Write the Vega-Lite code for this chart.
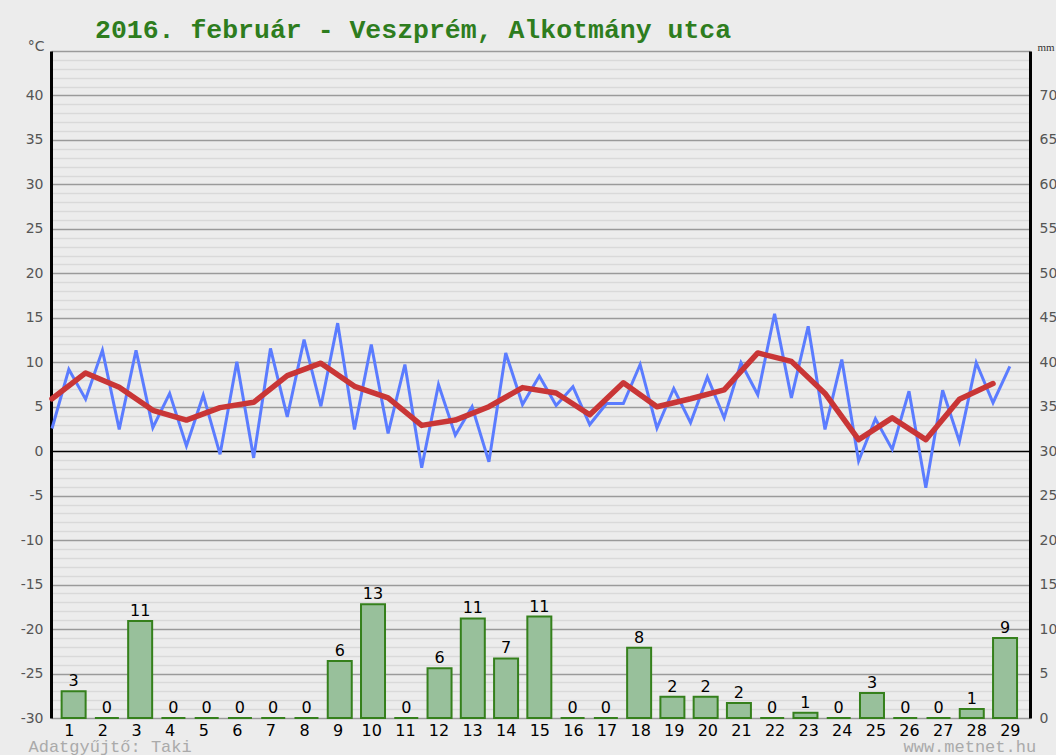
{
  "$schema": "https://vega.github.io/schema/vega-lite/v6.json",
  "width": 979,
  "height": 667,
  "autosize": {"type": "none"},
  "padding": {"left": 51, "top": 51, "right": 26, "bottom": 37},
  "background": "#ececec",
  "config": {"view": {"stroke": null}},
  "title": {
    "text": "2016. február - Veszprém, Alkotmány utca",
    "anchor": "start",
    "frame": "group",
    "dx": 44,
    "dy": 36,
    "offset": 11,
    "baseline": "alphabetic",
    "font": "Liberation Mono",
    "fontSize": 26.5,
    "fontWeight": "bold",
    "color": "#2e7d1e"
  },
  "datasets": {
    "hilo": [
      {"x": 0.5, "t": 2.55}, {"x": 1, "t": 9.2}, {"x": 1.5, "t": 5.85}, {"x": 2, "t": 11.35},
      {"x": 2.5, "t": 2.45}, {"x": 3, "t": 11.35}, {"x": 3.5, "t": 2.65}, {"x": 4, "t": 6.5},
      {"x": 4.5, "t": 0.6}, {"x": 5, "t": 6.3}, {"x": 5.5, "t": -0.35}, {"x": 6, "t": 10.05},
      {"x": 6.5, "t": -0.75}, {"x": 7, "t": 11.55}, {"x": 7.5, "t": 3.85}, {"x": 8, "t": 12.55},
      {"x": 8.5, "t": 5.05}, {"x": 9, "t": 14.4}, {"x": 9.5, "t": 2.45}, {"x": 10, "t": 12.0},
      {"x": 10.5, "t": 2.0}, {"x": 11, "t": 9.75}, {"x": 11.5, "t": -1.85}, {"x": 12, "t": 7.5},
      {"x": 12.5, "t": 1.8}, {"x": 13, "t": 5.0}, {"x": 13.5, "t": -1.2}, {"x": 14, "t": 11.05},
      {"x": 14.5, "t": 5.25}, {"x": 15, "t": 8.45}, {"x": 15.5, "t": 5.15}, {"x": 16, "t": 7.25},
      {"x": 16.5, "t": 3.0}, {"x": 17, "t": 5.35}, {"x": 17.5, "t": 5.35}, {"x": 18, "t": 9.75},
      {"x": 18.5, "t": 2.6}, {"x": 19, "t": 7.05}, {"x": 19.5, "t": 3.2}, {"x": 20, "t": 8.35},
      {"x": 20.5, "t": 3.75}, {"x": 21, "t": 9.95}, {"x": 21.5, "t": 6.35}, {"x": 22, "t": 15.45},
      {"x": 22.5, "t": 6.0}, {"x": 23, "t": 14.05}, {"x": 23.5, "t": 2.45}, {"x": 24, "t": 10.3},
      {"x": 24.5, "t": -1.1}, {"x": 25, "t": 3.65}, {"x": 25.5, "t": 0.2}, {"x": 26, "t": 6.75},
      {"x": 26.5, "t": -4.1}, {"x": 27, "t": 6.85}, {"x": 27.5, "t": 1.1}, {"x": 28, "t": 9.95},
      {"x": 28.5, "t": 5.45}, {"x": 29, "t": 9.55}
    ],
    "mean": [
      {"x": 0.5, "t": 5.9}, {"x": 1.5, "t": 8.8}, {"x": 2.5, "t": 7.2}, {"x": 3.5, "t": 4.6},
      {"x": 4.5, "t": 3.5}, {"x": 5.5, "t": 4.9}, {"x": 6.5, "t": 5.5}, {"x": 7.5, "t": 8.5},
      {"x": 8.5, "t": 9.9}, {"x": 9.5, "t": 7.3}, {"x": 10.5, "t": 6.0}, {"x": 11.5, "t": 2.9},
      {"x": 12.5, "t": 3.5}, {"x": 13.5, "t": 5.0}, {"x": 14.5, "t": 7.15}, {"x": 15.5, "t": 6.55},
      {"x": 16.5, "t": 4.1}, {"x": 17.5, "t": 7.7}, {"x": 18.5, "t": 5.0}, {"x": 19.5, "t": 5.9},
      {"x": 20.5, "t": 6.9}, {"x": 21.5, "t": 11.05}, {"x": 22.5, "t": 10.1}, {"x": 23.5, "t": 6.5},
      {"x": 24.5, "t": 1.3}, {"x": 25.5, "t": 3.75}, {"x": 26.5, "t": 1.3}, {"x": 27.5, "t": 5.85},
      {"x": 28.5, "t": 7.6}
    ],
    "rain": [
      {"day": 1, "mm": 3.0}, {"day": 2, "mm": 0}, {"day": 3, "mm": 10.9}, {"day": 4, "mm": 0},
      {"day": 5, "mm": 0}, {"day": 6, "mm": 0}, {"day": 7, "mm": 0}, {"day": 8, "mm": 0},
      {"day": 9, "mm": 6.4}, {"day": 10, "mm": 12.8}, {"day": 11, "mm": 0}, {"day": 12, "mm": 5.6},
      {"day": 13, "mm": 11.2}, {"day": 14, "mm": 6.7}, {"day": 15, "mm": 11.4}, {"day": 16, "mm": 0},
      {"day": 17, "mm": 0}, {"day": 18, "mm": 7.9}, {"day": 19, "mm": 2.4}, {"day": 20, "mm": 2.4},
      {"day": 21, "mm": 1.7}, {"day": 22, "mm": 0}, {"day": 23, "mm": 0.6}, {"day": 24, "mm": 0},
      {"day": 25, "mm": 2.8}, {"day": 26, "mm": 0}, {"day": 27, "mm": 0}, {"day": 28, "mm": 1.0},
      {"day": 29, "mm": 9.0}
    ]
  },
  "layer": [
    {
      "encoding": {
        "x": {
          "field": "x", "type": "quantitative",
          "scale": {"domain": [0.47, 29.6], "nice": false, "zero": false},
          "axis": {
            "orient": "bottom",
            "values": [1,2,3,4,5,6,7,8,9,10,11,12,13,14,15,16,17,18,19,20,21,22,23,24,25,26,27,28,29],
            "domain": false, "ticks": false, "tickSize": 0, "grid": false,
            "labelPadding": 4, "labelFont": "DejaVu Sans", "labelFontSize": 16, "labelColor": "#000",
            "labelBaseline": "top", "labelFlush": false, "labelOverlap": false,
            "title": "Adatgyűjtő: Taki", "titleFont": "Liberation Mono", "titleFontSize": 17,
            "titleFontWeight": "normal", "titleColor": "#aaaaaa", "titleAnchor": "start",
            "titleAlign": "left", "titleBaseline": "alphabetic", "titleX": -23, "titleY": 33
          }
        },
        "y": {
          "field": "t", "type": "quantitative",
          "scale": {"domain": [-30, 45], "nice": false, "zero": false},
          "axis": {
            "orient": "left",
            "values": [-30,-29,-28,-27,-26,-25,-24,-23,-22,-21,-20,-19,-18,-17,-16,-15,-14,-13,-12,-11,-10,-9,-8,-7,-6,-5,-4,-3,-2,-1,0,1,2,3,4,5,6,7,8,9,10,11,12,13,14,15,16,17,18,19,20,21,22,23,24,25,26,27,28,29,30,31,32,33,34,35,36,37,38,39,40,41,42,43,44,45],
            "labelExpr": "datum.value % 5 === 0 && datum.value < 45 ? '' + datum.value : ''",
            "domain": true, "domainColor": "#000", "domainWidth": 3,
            "ticks": false, "tickSize": 0,
            "grid": true,
            "gridColor": {"condition": [{"test": "datum.value === 0", "value": "#000000"}, {"test": "datum.value % 5 === 0", "value": "#9a9a9a"}], "value": "#d9d9d9"},
            "gridWidth": 1.5,
            "labelPadding": 8, "labelFont": "DejaVu Sans", "labelFontSize": 14, "labelColor": "#555555",
            "labelOverlap": false, "labelFlush": false,
            "title": "°C", "titleAngle": 0, "titleAlign": "right", "titleBaseline": "alphabetic",
            "titleX": -7, "titleY": -1, "titleFont": "DejaVu Sans", "titleFontSize": 14,
            "titleFontWeight": "normal", "titleColor": "#555555"
          }
        }
      },
      "layer": [
        {
          "data": {"name": "hilo"},
          "mark": {"type": "line", "color": "#5b7cff", "strokeWidth": 3, "strokeJoin": "miter"}
        },
        {
          "data": {"name": "mean"},
          "mark": {"type": "line", "color": "#c93636", "strokeWidth": 5.5, "strokeCap": "round", "strokeJoin": "round"}
        }
      ]
    },
    {
      "data": {"name": "rain"},
      "encoding": {
        "x": {
          "field": "day", "type": "quantitative",
          "scale": {"domain": [0.47, 29.6], "nice": false, "zero": false},
          "axis": {
            "orient": "top", "domain": false, "ticks": false, "labels": false, "grid": false,
            "title": "www.metnet.hu", "titleFont": "Liberation Mono", "titleFontSize": 17,
            "titleFontWeight": "normal", "titleColor": "#aaaaaa", "titleAnchor": "start",
            "titleAlign": "left", "titleBaseline": "alphabetic", "titleX": 852, "titleY": 700
          }
        },
        "y": {
          "field": "mm", "type": "quantitative",
          "scale": {"domain": [0, 75], "nice": false, "zero": true},
          "axis": {
            "orient": "right",
            "values": [0,5,10,15,20,25,30,35,40,45,50,55,60,65,70],
            "domain": true, "domainColor": "#000", "domainWidth": 3,
            "ticks": false, "tickSize": 0, "grid": false,
            "labelPadding": 9, "labelFont": "DejaVu Sans", "labelFontSize": 14, "labelColor": "#555555",
            "labelOverlap": false, "labelFlush": false,
            "title": "mm", "titleAngle": 0, "titleAlign": "left", "titleBaseline": "alphabetic",
            "titleX": 7, "titleY": -1, "titleFont": "Liberation Serif", "titleFontSize": 11,
            "titleFontWeight": "normal", "titleColor": "#333333"
          }
        }
      },
      "layer": [
        {
          "mark": {"type": "bar", "width": 24, "fill": "#98c09b", "stroke": "#35801c", "strokeWidth": 2}
        },
        {
          "mark": {"type": "text", "baseline": "alphabetic", "dy": -5, "font": "DejaVu Sans", "fontSize": 16, "color": "#000"},
          "encoding": {"text": {"field": "mm", "type": "quantitative", "format": ".0f"}}
        }
      ]
    }
  ],
  "resolve": {
    "scale": {"x": "independent", "y": "independent"},
    "axis": {"x": "independent", "y": "independent"}
  }
}
